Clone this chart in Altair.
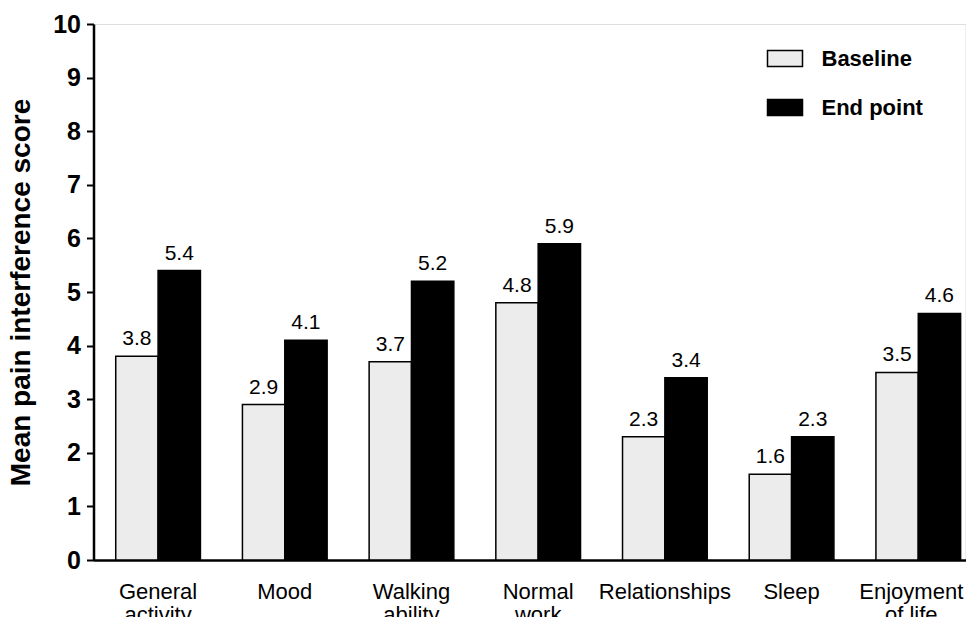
import altair as alt
import pandas as pd

categories = ["General activity", "Mood", "Walking ability", "Normal work",
              "Relationships", "Sleep", "Enjoyment of life"]
baseline = [3.8, 2.9, 3.7, 4.8, 2.3, 1.6, 3.5]
endpoint = [5.4, 4.1, 5.2, 5.9, 3.4, 2.3, 4.6]
series = ["Baseline", "End point"]

rows = []
for c, b, e in zip(categories, baseline, endpoint):
    rows.append({"cat": c, "series": series[0], "value": b})
    rows.append({"cat": c, "series": series[1], "value": e})
df = pd.DataFrame(rows)

FONT = "Liberation Sans"

x = alt.X("cat:N", sort=categories, title=None,
          scale=alt.Scale(paddingInner=0.3315, paddingOuter=0.107, align=0.82),
          axis=alt.Axis(labelAngle=0, labelFontSize=22, labelFont=FONT,
                        labelColor="black", ticks=False, domainColor="black",
                        domainWidth=2.5, labelPadding=21, labelLineHeight=23,
                        labelOffset={"condition": {"test": "datum.value == 'Enjoyment of life'",
                                                   "value": -7}, "value": 0},
                        labelExpr="datum.label == 'Enjoyment of life' ? ['Enjoyment', 'of life'] : split(datum.label, ' ')"))
xo = alt.XOffset("series:N", sort=series, scale=alt.Scale(paddingInner=0, paddingOuter=0))
y = alt.Y("value:Q", title="Mean pain interference score",
          scale=alt.Scale(domain=[0, 10], nice=False),
          axis=alt.Axis(values=list(range(11)), grid=False, labelFontSize=25,
                        labelFontWeight="bold", labelFont=FONT, labelColor="black",
                        tickColor="black", tickWidth=2, tickSize=7, labelPadding=6,
                        domainColor="black", domainWidth=2.5,
                        titleFontSize=28, titleFontWeight="bold", titleFont=FONT,
                        titleColor="black", titlePadding=17))

color = alt.Color("series:N", sort=series,
                  scale=alt.Scale(domain=series, range=["#ececec", "black"]),
                  legend=alt.Legend(title=None, orient="none", legendX=673, legendY=16,
                                    symbolType="M-1,-0.457H1V0.457H-1Z", symbolSize=1225,
                                    symbolStrokeColor="black", symbolStrokeWidth=1.5,
                                    symbolOpacity=1, rowPadding=19, labelOffset=18,
                                    labelFontSize=22, labelFontWeight="bold",
                                    labelFont=FONT, labelColor="black"))

bars = alt.Chart(df).mark_bar(stroke="black", strokeWidth=1.5).encode(
    x=x, xOffset=xo, y=y, color=color)

labels = alt.Chart(df).mark_text(baseline="bottom", dy=-7, fontSize=21,
                                 font=FONT, color="black").encode(
    x=x, xOffset=xo, y=y, text=alt.Text("value:Q", format=".1f"))

chart = alt.layer(bars, labels).properties(
    width=872, height=536,
    autosize=alt.AutoSizeParams(type="none"),
    padding={"left": 85.5, "top": 16, "right": 0, "bottom": 57},
).configure_view(stroke=None).configure(background="white")

chart.save("out.html", embed_options={"renderer": "svg", "actions": False})
